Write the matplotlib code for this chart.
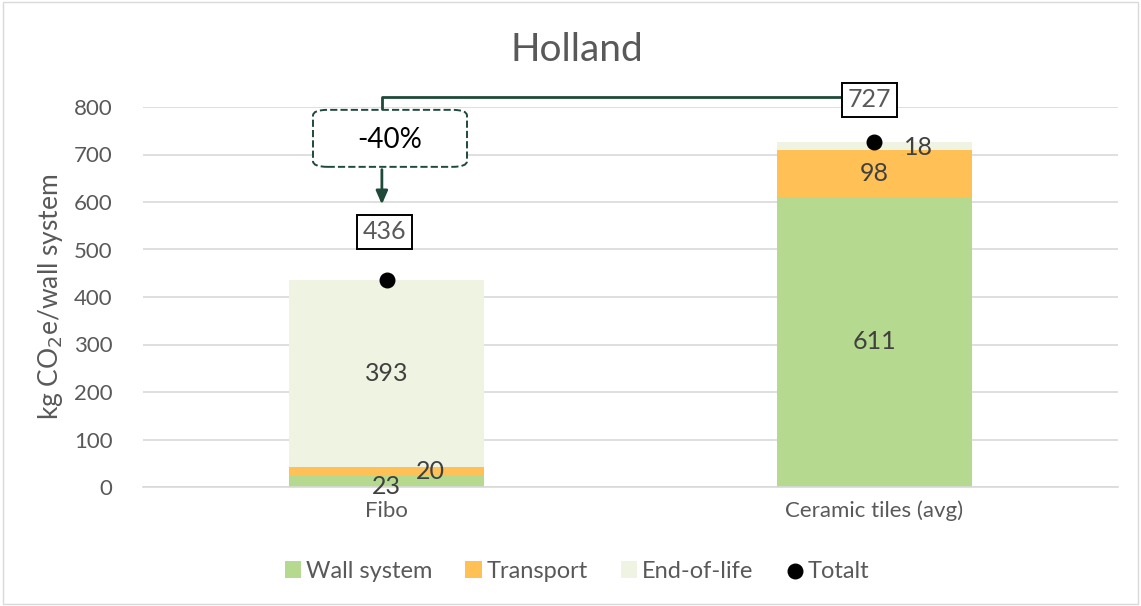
import matplotlib.pyplot as plt
import numpy as np
from matplotlib.patches import Rectangle, FancyBboxPatch

plt.rcParams['font.family'] = ['Lato', 'DejaVu Sans']

categories = ['Fibo', 'Ceramic tiles (avg)']
wall_system = [23, 611]
transport = [20, 98]
end_of_life = [393, 18]
totalt = [436, 727]

c_wall = '#B5DA8F'
c_trans = '#FFC155'
c_eol = '#EFF3E2'
c_text = '#595959'
c_arrow = '#1F4A3A'

fig = plt.figure(figsize=(11.41, 6.06), dpi=100)
ax = fig.add_axes([143 / 1141, 1 - 487 / 606, 975 / 1141, 380 / 606])

x = np.arange(len(categories))
w = 0.4
b1 = np.array(wall_system)
b2 = b1 + np.array(transport)
ax.bar(x, wall_system, w, color=c_wall, label='Wall system', zorder=2)
ax.bar(x, transport, w, bottom=b1, color=c_trans, label='Transport', zorder=2)
ax.bar(x, end_of_life, w, bottom=b2, color=c_eol, label='End-of-life', zorder=2)
ax.scatter(x, totalt, s=110, color='black', label='Totalt', zorder=4)

ax.set_xlim(-0.5, 1.5)
ax.set_ylim(0, 800)
ax.set_yticks(range(0, 801, 100))
ax.set_xticks(x)
ax.set_xticklabels(categories)
ax.tick_params(axis='both', length=0, labelsize=16, colors=c_text)
ax.tick_params(axis='y', pad=22)
ax.tick_params(axis='x', pad=10)
ax.grid(axis='y', color='#D9D9D9', lw=1.2, zorder=0)
for s in ['top', 'right', 'left']:
    ax.spines[s].set_visible(False)
ax.spines['bottom'].set_color('#D9D9D9')
ax.spines['bottom'].set_linewidth(1.2)
ax.set_ylabel('kg CO$_2$e/wall system', fontsize=19, color=c_text, labelpad=6)
fig.text(577 / 1141, 1 - 50 / 606, 'Holland', fontsize=28, color=c_text, ha='center', va='center')

# segment labels
lab = dict(fontsize=18, color='#404040', ha='center', va='center', zorder=5)
ax.text(0, wall_system[0] / 2 - 10, str(wall_system[0]), **lab)
ax.text(0.09, b1[0] + transport[0] / 2, str(transport[0]), **lab)
ax.text(0, b2[0] + end_of_life[0] / 2, str(end_of_life[0]), **lab)
ax.text(1, wall_system[1] / 2, str(wall_system[1]), **lab)
ax.text(1, b1[1] + transport[1] / 2, str(transport[1]), **lab)
ax.text(1.09, b2[1] + end_of_life[1] / 2 - 3, str(end_of_life[1]), **lab)

# total value boxes
box = dict(boxstyle='square,pad=0.22', fc='white', ec='black', lw=1.4)
ax.text(-0.005, 537, str(totalt[0]), fontsize=18, color=c_text, ha='center', va='center', bbox=box, zorder=6)
ax.text(0.99, 815, str(totalt[1]), fontsize=18, color=c_text, ha='center', va='center', bbox=box, zorder=6)

# connector, arrow and change box
ax.plot([0.935, -0.01, -0.01], [821, 821, 794], color=c_arrow, lw=2, zorder=5, clip_on=False)
ax.annotate('', xy=(-0.01, 589), xytext=(-0.01, 674),
            arrowprops=dict(arrowstyle='-|>,head_width=0.35,head_length=0.8', color=c_arrow, lw=2), zorder=5)
ax.add_patch(FancyBboxPatch((-0.5 + (313 - 143) / 487.5, 674), 154 / 487.5, 120,
                            boxstyle='round,pad=0,rounding_size=0.03', mutation_aspect=400,
                            fc='white', ec=c_arrow, lw=1.4, ls='--', zorder=5, clip_on=False))
ax.text(0.007, 731, f'-{round((1 - totalt[0] / totalt[1]) * 100)}%', fontsize=20, color='black',
        ha='center', va='center', zorder=6)

handles, labels = ax.get_legend_handles_labels()
order = [1, 2, 3, 0]
leg = fig.legend([handles[i] for i in order], [labels[i] for i in order], loc='center',
                 bbox_to_anchor=(577 / 1141, 1 - 571 / 606), ncol=4,
                 frameon=False, fontsize=17, handlelength=0.7, handleheight=0.7, handletextpad=0.2,
                 columnspacing=1.4, labelcolor=c_text)

fig.patches.append(Rectangle((0.003, 0.003), 0.994, 0.994, transform=fig.transFigure,
                             fill=False, ec='#D9D9D9', lw=1))

fig.savefig('out.png', dpi=100)
